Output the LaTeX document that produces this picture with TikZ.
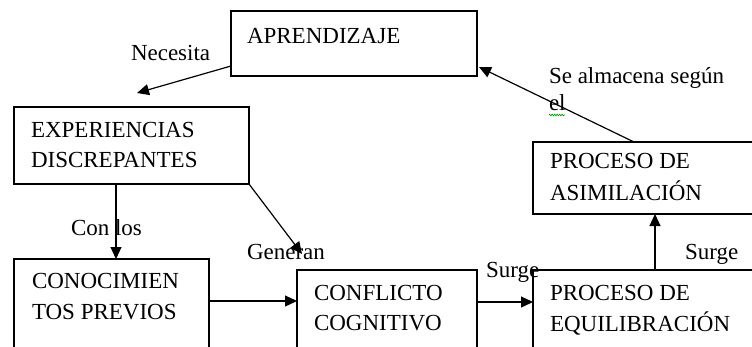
\documentclass[tikz,border=0pt]{standalone}
\usepackage{fontspec}
\setmainfont{Liberation Serif}
\usetikzlibrary{arrows.meta,decorations.pathmorphing}
\begin{document}
\begin{tikzpicture}[x=1pt,y=-1pt,
  box/.style={draw,line width=1.2pt,inner sep=0pt,outer sep=0pt,anchor=north west},
  txt/.style={anchor=base west,inner sep=0pt,outer sep=0pt,font=\fontsize{23}{30}\selectfont},
  arr/.style={line width=1.2pt,-{Triangle[length=12pt,width=11pt]}}]
\useasboundingbox (0,0) rectangle (752,346);
\clip (0,0) rectangle (752,346);
% boxes
\node[box,minimum width=246pt,minimum height=65pt] (apr) at (231,11) {};
\node[box,minimum width=235pt,minimum height=77pt] (exp) at (14,107) {};
\node[box,minimum width=195pt,minimum height=110pt] (con) at (14,259) {};
\node[box,minimum width=180pt,minimum height=100pt] (cnf) at (297,270) {};
\node[box,minimum width=240pt,minimum height=100pt] (equ) at (533,270) {};
\node[box,minimum width=240pt,minimum height=72pt] (asi) at (533,142) {};
% box texts
\node[txt] (t1) at (247,43) {APRENDIZAJE};
\node[txt] (t2) at (31,137) {EXPERIENCIAS};
\node[txt] (t3) at (31,167) {DISCREPANTES};
\node[txt] (t4) at (32,288) {CONOCIMIEN};
\node[txt] (t5) at (32,319) {TOS PREVIOS};
\node[txt] (t6) at (314,300) {CONFLICTO};
\node[txt] (t7) at (314,330) {COGNITIVO};
\node[txt] (t8) at (550,300) {PROCESO DE};
\node[txt] (t9) at (550,331) {EQUILIBRACIÓN};
\node[txt] (t10) at (550,168) {PROCESO DE};
\node[txt] (t11) at (550,200) {ASIMILACIÓN};
% labels
\node[txt] (l1) at (131,60) {Necesita};
\node[txt] (l2) at (71,235) {Con los};
\node[txt] (l3) at (247,259) {Generan};
\node[txt] (l4) at (486,277) {Surge};
\node[txt] (l5) at (685,259) {Surge};
\node[txt] (l6) at (549,83) {Se almacena según};
\node[txt] (l7) at (549,110) {el};
\draw[green!60!black,line width=0.6pt,decorate,decoration={zigzag,segment length=2.5pt,amplitude=0.9pt}] (l7.base west)++(0,5) -- ++(16,0);
% helper coordinates
\coordinate (nfree) at (137,93);
\coordinate (gfree) at (302,254);
\coordinate (afree) at (479,67);
\coordinate (cx) at (116,0);
\coordinate (cy1) at (0,301);
\coordinate (cy2) at (0,302);
\coordinate (cz) at (655,0);
\coordinate (cw) at (634,0);
\coordinate (ny) at (0,66);
% connectors
\draw[arr] (apr.west |- ny) -- (nfree);
\draw[arr] (exp.south -| cx) -- (con.north -| cx);
\draw[arr] (exp.south east) -- (gfree);
\draw[arr] (con.east |- cy1) -- (cnf.west |- cy1);
\draw[arr] (cnf.east |- cy2) -- (equ.west |- cy2);
\draw[arr] (equ.north -| cz) -- (asi.south -| cz);
\draw[arr] (asi.north -| cw) -- (afree);
\end{tikzpicture}
\end{document}
